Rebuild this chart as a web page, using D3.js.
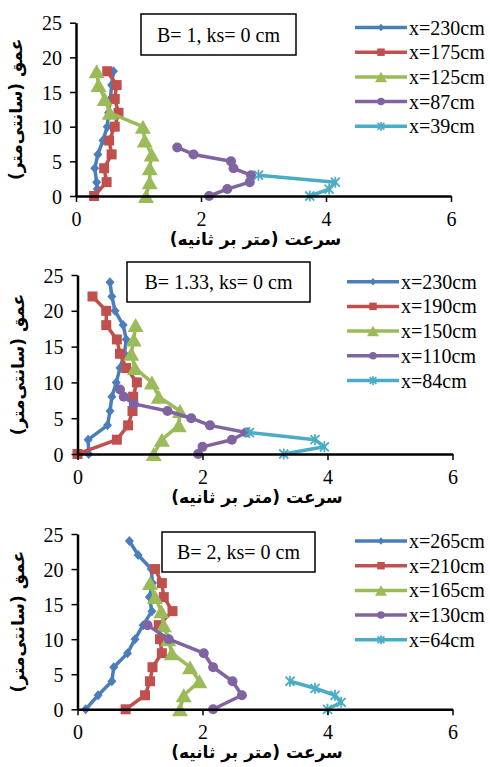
<!DOCTYPE html>
<html>
<head>
<meta charset="utf-8">
<script src="https://cdn.jsdelivr.net/npm/d3@7"></script>
<style>
  body { margin: 0; background: #fff; }
  svg { display: block; }
</style>
</head>
<body>
<svg id="chart" width="490" height="767"></svg>
<script>
// ticks shared by the three panels
const ticksX = [0, 2, 4, 6];
const ticksY = [0, 5, 10, 15, 20, 25];

// panel 1 : B = 1   -> [velocity m/s, depth cm]
const p1Names = ["x=230cm", "x=175cm", "x=125cm", "x=87cm", "x=39cm"];
const p1_230 = [[0.6,18],[0.57,16],[0.55,14],[0.52,12],[0.5,10],[0.43,8],[0.35,6],[0.3,4],[0.33,2],[0.34,1]];
const p1_175 = [[0.5,18],[0.65,16],[0.62,14],[0.68,12],[0.62,10],[0.53,8],[0.57,6],[0.45,4],[0.49,2],[0.29,0]];
const p1_125 = [[0.33,18],[0.36,16],[0.46,14],[0.54,12],[1.07,10],[1.1,8],[1.21,6],[1.18,4],[1.18,2],[1.12,0]];
const p1_87  = [[1.62,7],[1.88,6],[2.48,5],[2.52,4],[2.8,3],[2.78,2],[2.42,1],[2.13,0]];
const p1_39  = [[2.92,3],[4.15,2],[4.05,1],[3.74,0]];

// panel 2 : B = 1.33
const p2Names = ["x=230cm", "x=190cm", "x=150cm", "x=110cm", "x=84cm"];
const p2_230 = [[0.52,24],[0.55,22],[0.6,20],[0.73,18],[0.78,16],[0.75,14],[0.68,12],[0.62,10],[0.55,8],[0.52,6],[0.48,4],[0.17,2],[0.18,0]];
const p2_190 = [[0.24,22],[0.46,20],[0.46,18],[0.63,16],[0.68,14],[0.78,12],[0.95,10],[0.89,8],[0.88,6],[0.81,4],[0.63,2],[0,0]];
const p2_150 = [[0.93,18],[0.9,16],[0.86,14],[0.92,12],[1.19,10],[1.3,8],[1.64,6],[1.62,4],[1.35,2],[1.22,0]];
const p2_110 = [[0.68,9],[0.74,8],[0.9,7],[1.44,6],[1.82,5],[2.12,4],[2.7,3],[2.47,2],[2.0,1],[1.93,0]];
const p2_84  = [[2.75,3],[3.8,2],[3.95,1],[3.3,0]];

// panel 3 : B = 2
const p3Names = ["x=265cm", "x=210cm", "x=165cm", "x=130cm", "x=64cm"];
const p3_265 = [[0.83,24],[0.97,22],[1.18,20],[1.2,18],[1.15,16],[1.19,14],[1.05,12],[0.92,10],[0.8,8],[0.58,6],[0.55,4],[0.33,2],[0.13,0]];
const p3_210 = [[1.24,20],[1.35,18],[1.38,16],[1.52,14],[1.3,12],[1.32,10],[1.35,8],[1.2,6],[1.16,4],[1.08,2],[0.77,0]];
const p3_165 = [[1.16,18],[1.24,16],[1.34,14],[1.38,12],[1.45,10],[1.51,8],[1.8,6],[1.95,4],[1.7,2],[1.64,0]];
const p3_130 = [[1.12,12],[1.46,10],[2.02,8],[2.17,6],[2.48,4],[2.63,2],[2.17,0]];
const p3_64  = [[3.4,4],[3.8,3],[4.12,2],[4.22,1],[4.0,0]];

// colores y marcadores tipo Excel
const colors = ["#4a7ebb", "#c0504d", "#9bbb59", "#8064a2", "#4bacc6"];
const markers = ["diamond", "square", "triangle", "circle", "star"];

const yLabel = "عمق (سانتی‌متر)";
const xLabel = "سرعت (متر بر ثانیه)";

const panels = [
  { left: 76, right: 451, top: 22.7, bottom: 196, title: "B= 1, ks= 0 cm",
    box: [141, 14, 155, 41], legX: 355, legY: 27.5, names: p1Names,
    series: [p1_230, p1_175, p1_125, p1_87, p1_39] },
  { left: 77.5, right: 452.5, top: 275, bottom: 454, title: "B= 1.33, ks= 0 cm",
    box: [127, 262, 183, 40], legX: 347, legY: 281.7, names: p2Names,
    series: [p2_230, p2_190, p2_150, p2_110, p2_84] },
  { left: 77.5, right: 452.5, top: 534, bottom: 709.3, title: "B= 2, ks= 0 cm",
    box: [162, 532, 153, 40], legX: 355, legY: 541, names: p3Names,
    series: [p3_265, p3_210, p3_165, p3_130, p3_64] }
];

const svg = d3.select("#chart");
const serif = "'Liberation Serif', 'Times New Roman', serif";

function drawMarker(g, type, color, x, y, scale) {
  const k = scale || 1;
  if (type === "diamond") {
    g.append("path").attr("d", `M${x},${y - 5 * k}L${x + 4.5 * k},${y}L${x},${y + 5 * k}L${x - 4.5 * k},${y}Z`)
      .attr("fill", color);
  } else if (type === "square") {
    g.append("rect").attr("x", x - 5 * k).attr("y", y - 5 * k)
      .attr("width", 10 * k).attr("height", 10 * k).attr("fill", color);
  } else if (type === "triangle") {
    const h = 14 * k, w = 16 * k;
    g.append("path").attr("d", `M${x},${y - h / 2}L${x + w / 2},${y + h / 2}L${x - w / 2},${y + h / 2}Z`)
      .attr("fill", color);
  } else if (type === "circle") {
    g.append("circle").attr("cx", x).attr("cy", y).attr("r", 5 * k).attr("fill", color);
  } else {
    const r = 4.5 * k;
    g.append("path")
      .attr("d", `M${x - r},${y - r}L${x + r},${y + r}M${x - r},${y + r}L${x + r},${y - r}M${x},${y - r - 1}L${x},${y + r + 1}`)
      .attr("stroke", color).attr("stroke-width", 1.8).attr("fill", "none");
  }
}

panels.forEach(p => {
  const x = d3.scaleLinear().domain([0, 6]).range([p.left, p.right]);
  const y = d3.scaleLinear().domain([0, 25]).range([p.bottom, p.top]);
  const g = svg.append("g");

  // series
  const line = d3.line().x(d => x(d[0])).y(d => y(d[1]));
  p.series.forEach((s, i) => {
    g.append("path").datum(s).attr("d", line)
      .attr("fill", "none").attr("stroke", colors[i])
      .attr("stroke-width", 3.5).attr("stroke-linejoin", "round");
    s.forEach(d => drawMarker(g, markers[i], colors[i], x(d[0]), y(d[1])));
  });

  // ejes
  const ax = g.append("g").attr("transform", `translate(0,${p.bottom})`)
    .call(d3.axisBottom(x).tickValues(ticksX).tickSize(6).tickSizeOuter(0).tickFormat(d3.format("d")));
  const ay = g.append("g").attr("transform", `translate(${p.left},0)`)
    .call(d3.axisLeft(y).tickValues(ticksY).tickSize(6).tickSizeOuter(0).tickFormat(d3.format("d")));
  [ax, ay].forEach(a => {
    a.select(".domain").attr("stroke", "#000").attr("stroke-width", 2.5);
    a.selectAll(".tick line").attr("stroke", "#000").attr("stroke-width", 1.5);
    a.selectAll(".tick text").attr("font-family", serif).attr("font-size", 20).attr("fill", "#000");
  });
  ax.selectAll(".tick text").attr("dy", "1.05em");
  ay.selectAll(".tick text").attr("x", -14).attr("dy", "0.35em");

  // titulos de ejes
  g.append("text")
    .attr("transform", `translate(${p.left - 54},${(p.top + p.bottom) / 2}) rotate(-90)`)
    .attr("text-anchor", "middle").attr("direction", "rtl")
    .attr("font-family", "'DejaVu Sans', sans-serif").attr("font-weight", "bold")
    .attr("font-size", 17).text(yLabel);
  g.append("text")
    .attr("x", (p.left + p.right) / 2 - 8).attr("y", p.bottom + 49)
    .attr("text-anchor", "middle").attr("direction", "rtl")
    .attr("font-family", "'DejaVu Sans', sans-serif").attr("font-weight", "bold")
    .attr("font-size", 17).text(xLabel);

  // caja del titulo
  g.append("rect").attr("x", p.box[0]).attr("y", p.box[1])
    .attr("width", p.box[2]).attr("height", p.box[3])
    .attr("fill", "#fff").attr("stroke", "#000").attr("stroke-width", 1.5);
  g.append("text").attr("x", p.box[0] + p.box[2] / 2).attr("y", p.box[1] + p.box[3] / 2 + 7)
    .attr("text-anchor", "middle").attr("font-family", serif).attr("font-size", 20)
    .text(p.title);

  // leyenda
  p.names.forEach((n, i) => {
    const ly = p.legY + i * 24.7;
    g.append("line").attr("x1", p.legX).attr("x2", p.legX + 52)
      .attr("y1", ly).attr("y2", ly)
      .attr("stroke", colors[i]).attr("stroke-width", 3.5);
    drawMarker(g, markers[i], colors[i], p.legX + 26, ly, 0.75);
    g.append("text").attr("x", p.legX + 54).attr("y", ly + 7)
      .attr("font-family", serif).attr("font-size", 20).text(n);
  });
});
</script>
</body>
</html>
